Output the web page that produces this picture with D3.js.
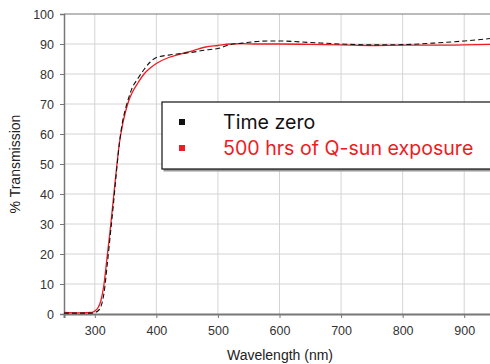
<!DOCTYPE html>
<html>
<head>
<meta charset="utf-8">
<script src="https://cdn.jsdelivr.net/npm/d3@7"></script>
<style>
  body { margin: 0; background: #fff; }
  svg { display: block; font-family: "Liberation Sans", Arial, sans-serif; }
  .tick text { fill: #333; font-size: 12.5px; }
</style>
</head>
<body>
<div id="wrapper"></div>
<script>
// wavelengths (nm) and % transmission
const wavelengths = [250, 275, 295, 300, 305, 310, 315, 320, 325, 330, 335, 340, 345, 350, 355, 360, 370, 380, 390, 400, 420, 440, 460, 480, 500, 520, 540, 560, 580, 600, 650, 700, 750, 800, 850, 900, 950];
const timeZero = [0.3, 0.3, 0.3, 0.5, 1, 2.5, 7, 16, 26, 36, 47, 57, 64, 68.5, 72, 75, 78.5, 81.5, 84, 85.5, 86.3, 86.8, 87.3, 88, 88.5, 89.8, 90.3, 90.8, 91, 91, 90.5, 90, 89.7, 89.8, 90.3, 91, 92];
const qsun500 = [0.5, 0.4, 0.5, 1, 2, 4.5, 10, 19, 28, 38, 48, 57, 63, 67.5, 71, 73.5, 77, 80, 82, 83.5, 85.5, 86.7, 87.8, 89, 89.5, 90, 90.1, 90, 90, 90, 89.9, 89.7, 89.5, 89.6, 89.6, 89.7, 89.9];
const seriesNames = ["Time zero", "500 hrs of Q-sun exposure"];
const seriesColors = ["#111111", "#ee1c24"];
const xTicks = [300, 400, 500, 600, 700, 800, 900];
const yTicks = [0, 10, 20, 30, 40, 50, 60, 70, 80, 90, 100];

const dimensions = {
  width: 490,
  height: 364,
  margin: { top: 14, right: -5, bottom: 50, left: 64 }
};
dimensions.boundedWidth = dimensions.width - dimensions.margin.left - dimensions.margin.right;
dimensions.boundedHeight = dimensions.height - dimensions.margin.top - dimensions.margin.bottom;

const wrapper = d3.select("#wrapper")
  .append("svg")
  .attr("width", dimensions.width)
  .attr("height", dimensions.height);

const bounds = wrapper.append("g")
  .attr("transform", `translate(${dimensions.margin.left},${dimensions.margin.top})`);

const xScale = d3.scaleLinear()
  .domain([250, 950])
  .range([0, dimensions.boundedWidth]);

const yScale = d3.scaleLinear()
  .domain([0, 100])
  .range([dimensions.boundedHeight, 0]);

// grid
bounds.append("g")
  .selectAll("line")
  .data(xTicks)
  .join("line")
  .attr("x1", d => xScale(d)).attr("x2", d => xScale(d))
  .attr("y1", 0).attr("y2", dimensions.boundedHeight)
  .attr("stroke", "#d4d4d4").attr("stroke-width", 1);

bounds.append("g")
  .selectAll("line")
  .data(yTicks.slice(1))
  .join("line")
  .attr("x1", 0).attr("x2", dimensions.boundedWidth)
  .attr("y1", d => yScale(d)).attr("y2", d => yScale(d))
  .attr("stroke", d => d === 100 ? "#777" : "#d4d4d4").attr("stroke-width", 1);

// axes
const xAxis = bounds.append("g")
  .attr("transform", `translate(0,${dimensions.boundedHeight})`)
  .call(d3.axisBottom(xScale).tickValues(xTicks).tickSize(4).tickPadding(8));
xAxis.select(".domain").attr("stroke", "#777").attr("stroke-width", 2);
xAxis.selectAll(".tick line").attr("stroke", "#777");

const yAxis = bounds.append("g")
  .call(d3.axisLeft(yScale).tickValues(yTicks).tickSize(4).tickPadding(6));
yAxis.select(".domain").attr("stroke", "#777").attr("stroke-width", 1.5);
yAxis.selectAll(".tick line").attr("stroke", "#777");

// lines
const points = wavelengths.map((w, i) => ({ w, a: timeZero[i], b: qsun500[i] }));

const lineA = d3.line().x(d => xScale(d.w)).y(d => yScale(d.a)).curve(d3.curveMonotoneX);
const lineB = d3.line().x(d => xScale(d.w)).y(d => yScale(d.b)).curve(d3.curveMonotoneX);

bounds.append("path")
  .attr("d", lineB(points))
  .attr("fill", "none")
  .attr("stroke", seriesColors[1])
  .attr("stroke-width", 1.3);

bounds.append("path")
  .attr("d", lineA(points))
  .attr("fill", "none")
  .attr("stroke", seriesColors[0])
  .attr("stroke-width", 1.1)
  .attr("stroke-dasharray", "5,3");

// legend
const legend = wrapper.append("g").attr("transform", "translate(162,102)");
legend.append("rect")
  .attr("x", 1.5).attr("y", 1.5)
  .attr("width", 340).attr("height", 68)
  .attr("fill", "#999");
legend.append("rect")
  .attr("width", 340).attr("height", 67)
  .attr("fill", "#fff")
  .attr("stroke", "#111").attr("stroke-width", 1.2);

const legendItems = legend.selectAll(".item")
  .data(seriesNames)
  .join("g")
  .attr("class", "item")
  .attr("transform", (d, i) => `translate(0,${20 + i * 26})`);
legendItems.append("rect")
  .attr("x", 17).attr("y", -3)
  .attr("width", 6).attr("height", 6)
  .attr("fill", (d, i) => seriesColors[i]);
legendItems.append("text")
  .attr("x", 61).attr("y", 7)
  .attr("font-family", "Inter, 'Noto Sans', sans-serif")
  .attr("font-size", 19.6)
  .attr("fill", (d, i) => i === 0 ? "#111" : "#ee1c24")
  .text(d => d);

// axis labels
wrapper.append("text")
  .attr("x", 280).attr("y", 360)
  .attr("text-anchor", "middle")
  .attr("font-size", 14).attr("fill", "#222")
  .text("Wavelength (nm)");

wrapper.append("text")
  .attr("transform", "translate(20,164) rotate(-90)")
  .attr("text-anchor", "middle")
  .attr("font-size", 14).attr("fill", "#222")
  .text("% Transmission");
</script>
</body>
</html>
